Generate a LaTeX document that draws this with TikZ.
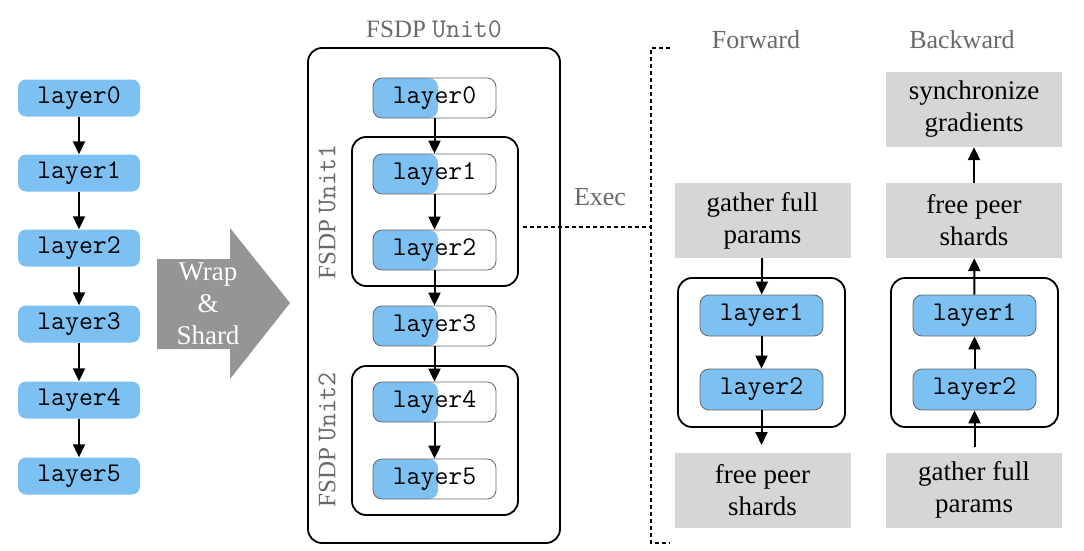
\documentclass[tikz,border=0pt]{standalone}
\usepackage{fontspec}
\setmainfont{Liberation Serif}
\usetikzlibrary{arrows.meta}

\definecolor{layerblue}{RGB}{125,193,242}
\definecolor{boxgray}{RGB}{214,214,214}
\definecolor{wrapgray}{RGB}{149,149,149}
\definecolor{labelgray}{RGB}{105,105,105}

\begin{document}
\begin{tikzpicture}[x=1pt,y=-1pt,
  layer/.style={fill=layerblue,rounded corners=8pt,minimum width=122pt,minimum height=37pt,
    inner sep=0pt,font=\fontsize{27}{30}\ttfamily},
  halflayer/.style={draw=black!60,line width=0.8pt,rounded corners=9pt,minimum width=123pt,
    minimum height=40pt,inner sep=0pt,font=\fontsize{27}{30}\ttfamily,
    path picture={\fill[layerblue] (path picture bounding box.south west)
      rectangle ([xshift=-58pt]path picture bounding box.north east);}},
  fulllayer/.style={draw=black!60,line width=0.8pt,fill=layerblue,rounded corners=9pt,
    minimum width=123pt,minimum height=41pt,inner sep=0pt,font=\fontsize{27}{30}\ttfamily},
  unit/.style={draw,line width=1.8pt,rounded corners=14pt,inner sep=0pt},
  unitlabel/.style={text=labelgray,rotate=90,font=\fontsize{25}{28}\rmfamily},
  graybox/.style={fill=boxgray,minimum width=176pt,minimum height=75pt,inner sep=0pt,
    align=center,font=\fontsize{27}{32}\rmfamily},
  title/.style={text=labelgray,font=\fontsize{26}{30}\rmfamily},
  flow/.style={-{Triangle[length=13pt,width=12pt]},line width=2pt},
  execline/.style={line width=1.6pt,dash pattern=on 4pt off 3pt}
]
\useasboundingbox (0,0) rectangle (1084,551);

% plain model
\foreach \i/\y in {0/98,1/173,2/248,3/324,4/400,5/476}
  \node[layer] (p\i) at (79,\y) {layer\i};
\foreach \i/\j in {0/1,1/2,2/3,3/4,4/5}
  \draw[flow] (p\i) -- (p\j);

% wrap arrow
\fill[wrapgray] (157,259) -- (230,259) -- (230,228) -- (290,303)
  -- (230,379) -- (230,349) -- (157,349) -- cycle;
\node[align=center,text=white,font=\fontsize{27}{32}\rmfamily] (wrap) at (208,304)
  {Wrap\\\&\\Shard};

% wrapped model
\node[unit,minimum width=252pt,minimum height=495pt] (unit0) at (434,295.5) {};
\node[title,font=\fontsize{25}{28}\rmfamily] (t0) at (434,29) {FSDP {\fontsize{27}{28}\ttfamily Unit0}};
\node[unit,minimum width=166pt,minimum height=149pt] (unit1) at (435,211.5) {};
\node[unit,minimum width=166pt,minimum height=149pt] (unit2) at (435,440.5) {};
\node[unitlabel] (t1) at (327,212) {FSDP {\fontsize{27}{28}\ttfamily Unit1}};
\node[unitlabel] (t2) at (327,440) {FSDP {\fontsize{27}{28}\ttfamily Unit2}};
\foreach \i/\y in {0/98,1/174,2/250,3/326,4/402,5/479}
  \node[halflayer] (w\i) at (434.5,\y) {layer\i};
\foreach \i/\j in {0/1,1/2,2/3,3/4,4/5}
  \draw[flow] (w\i) -- (w\j);

% exec bracket
\coordinate (execR) at (651,227);
\coordinate (bt) at (670,48);
\coordinate (bb) at (670,543);
\draw[execline] ([xshift=4pt]unit1.east |- execR) -- (execR);
\draw[execline] (bt) -- (651,48) -- (651,543) -- (bb);
\node[title] (exec) at (600,197) {Exec};

% forward
\node[title] (fwd) at (756,40) {Forward};
\node[graybox] (fgather) at (762.5,220.5) {gather full\\params};
\node[unit,minimum width=167pt,minimum height=149pt] (funit) at (761.5,352.5) {};
\node[fulllayer] (f1) at (761.5,315.5) {layer1};
\node[fulllayer] (f2) at (761.5,389.5) {layer2};
\node[graybox] (ffree) at (762.5,490) {free peer\\shards};
\coordinate (fend) at (761.5,445);
\draw[flow] (fgather) -- (f1);
\draw[flow] (f1) -- (f2);
\draw[flow] (f2) -- (fend);

% backward
\node[title] (bwd) at (962,40) {Backward};
\node[graybox] (bsync) at (974,109.5) {synchronize\\gradients};
\node[graybox] (bfree) at (974,220.5) {free peer\\shards};
\node[unit,minimum width=167pt,minimum height=149pt] (bunit) at (974.5,352.5) {};
\node[fulllayer] (b1) at (974.5,315.5) {layer1};
\node[fulllayer] (b2) at (974.5,389.5) {layer2};
\node[graybox] (bgather) at (974,490) {gather full\\params};
\coordinate (bstart) at (974.5,447);
\draw[flow] (bstart) -- (b2);
\draw[flow] (b2) -- (b1);
\draw[flow] (b1) -- (bfree);
\draw[flow] (bfree) -- (bsync);
\end{tikzpicture}
\end{document}
